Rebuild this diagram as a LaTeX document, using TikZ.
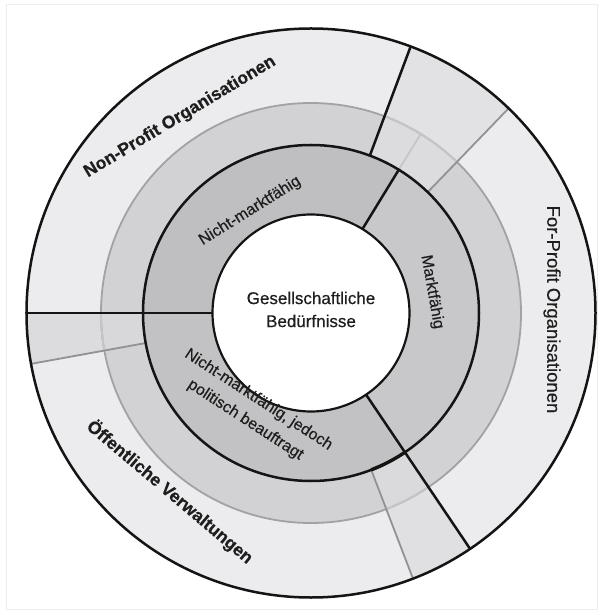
\documentclass[tikz,border=0pt]{standalone}
\usepackage{fontspec}
\setmainfont{Liberation Sans}
\newfontfamily\regf{Liberation Sans}[FakeBold=0.4]
\newfontfamily\boldf{Liberation Sans}[BoldFeatures={FakeBold=0.5}]
\definecolor{ringO}{HTML}{ECECEE}
\definecolor{ringOa}{HTML}{E2E2E4}
\definecolor{ringOb}{HTML}{DCDCDE}
\definecolor{ringOc}{HTML}{E0E0E2}
\definecolor{ringM}{HTML}{D2D2D4}
\definecolor{ringMa}{HTML}{DCDCDE}
\definecolor{ringMb}{HTML}{D8D8DA}
\definecolor{ringMc}{HTML}{DADADC}
\definecolor{nmcol}{HTML}{BFBFC1}
\definecolor{mfcol}{HTML}{C8C8CA}
\definecolor{jdcol}{HTML}{C2C2C4}
\definecolor{gline}{HTML}{A2A2A2}
\definecolor{glight}{HTML}{C6C6C6}
\definecolor{txt}{HTML}{1E1E1E}
\newcommand\annsec[5]{\fill[#5] (#1:#3) arc[start angle=#1, end angle=#2, radius=#3] -- (#2:#4) arc[start angle=#2, end angle=#1, radius=#4] -- cycle;}
\begin{document}
\begin{tikzpicture}[x=1pt,y=1pt,
  blk/.style={line width=2.5pt, draw=black!92},
  gl/.style={line width=1.8pt, draw=gline},
  glt/.style={line width=1.8pt, draw=glight},
  lbl/.style={inner sep=0pt, text=txt, font=\regf\fontsize{16}{19}\selectfont},
  biglbl/.style={inner sep=0pt, text=txt, font=\boldf\fontsize{17.6}{21}\selectfont\bfseries},
  fpolbl/.style={inner sep=0pt, text=txt, font=\regf\fontsize{18.5}{22}\selectfont}]
\useasboundingbox (-311,-302) rectangle (292,313);
\fill[white] (-311,-302) rectangle (292,313);
\draw[line width=0.8pt, draw=black!7] (-305,-296) rectangle (286,309);
% rings
\fill[ringO] (0,0) circle[radius=284.5];
\annsec{46}{69.5}{210}{284.5}{ringOa}
\annsec{180}{190.3}{210}{284.5}{ringOb}
\annsec{291}{304}{210}{284.5}{ringOc}
\fill[ringM] (0,0) circle[radius=210];
\annsec{46}{69.5}{168}{210}{ringMa}
\annsec{180}{190.3}{168}{210}{ringMb}
\annsec{291}{304}{168}{210}{ringMc}
\annsec{58.5}{180}{98.5}{168}{nmcol}
\annsec{180}{304}{98.5}{168}{jdcol}
\annsec{-56}{58.5}{98.5}{168}{mfcol}
\fill[white] (0,0) circle[radius=98.5];
% grey circle and dividers
\draw[gl] (0,0) circle[radius=210];
\draw[glt] (46:210) arc[start angle=46, end angle=69.5, radius=210];
\draw[glt] (180:210) arc[start angle=180, end angle=190.3, radius=210];
\draw[glt] (291:210) arc[start angle=291, end angle=304, radius=210];
\draw[gl, draw=gline!90!black] (46:168) -- (46:284.5);
\draw[gl, draw=gline!90!black] (190.3:168) -- (190.3:284.5);
\draw[gl, draw=gline!90!black] (-69:168) -- (-69:284.5);
\draw[glt] (58.5:168) -- (58.5:210);
% black lines
\draw[blk] (0,0) circle[radius=284.5];
\draw[blk] (0,0) circle[radius=168];
\draw[blk, line width=2.2pt] (0,0) circle[radius=98.5];
\draw[blk, line width=3.4pt] (-69:168) arc[start angle=-69, end angle=-56, radius=168];
\draw[blk] (180:98.5) -- (180:284.5);
\draw[blk] (-56:98.5) -- (-56:284.5);
\draw[blk] (58.5:98.5) -- (58.5:168);
\draw[blk] (69.5:168) -- (69.5:284.5);
% labels
\node[lbl, align=center, font=\regf\fontsize{17}{23}\selectfont] (ges) at (0,3.5) {Gesellschaftliche\\Bedürfnisse};
\node[lbl, rotate=32] (nm) at (-61,102) {Nicht-marktfähig};
\node[lbl, rotate=-80] (mf) at (121,21) {Marktfähig};
\node[lbl, rotate=-33, align=center, font=\regf\fontsize{16}{24}\selectfont] (nmj) at (-59,-97) {Nicht-marktfähig, jedoch\\politisch beauftragt};
\node[biglbl, rotate=31] (npo) at (-131,196) {Non-Profit Organisationen};
\node[fpolbl, rotate=-90] (fpo) at (241,3.5) {For-Profit Organisationen};
\node[biglbl, rotate=-40.2] (oev) at (-141,-179) {Öffentliche Verwaltungen};
\end{tikzpicture}
\end{document}
